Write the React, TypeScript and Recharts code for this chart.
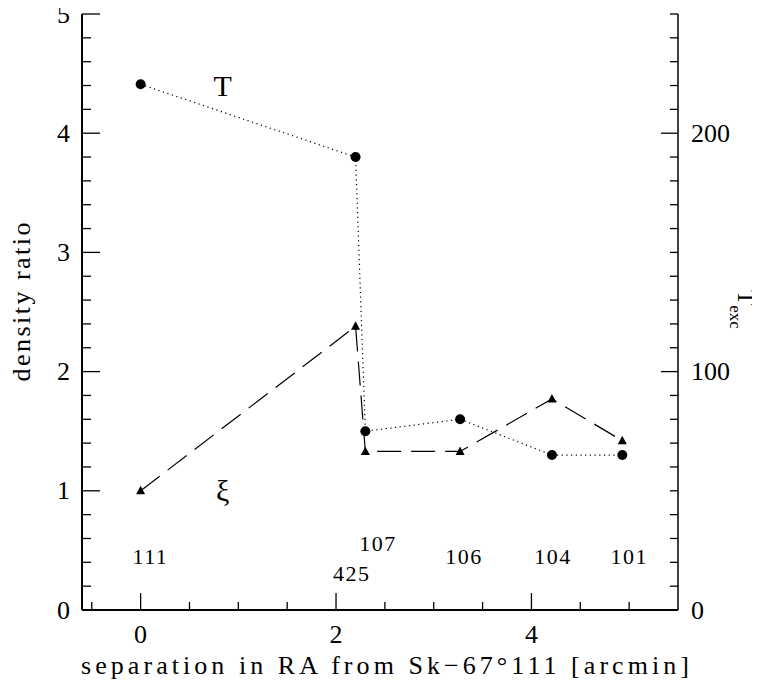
import { ComposedChart, Line, XAxis, YAxis, ReferenceDot } from "recharts"

// separation in RA [arcmin]
const separation = [0, 2.2, 2.3, 3.27, 4.21, 4.93]
// density ratios
const tRatio = [4.41, 3.8, 1.5, 1.6, 1.3, 1.3]
const xiRatio = [1.0, 2.38, 1.33, 1.33, 1.77, 1.42]

const xTicks = [-0.5, 0, 0.5, 1, 1.5, 2, 2.5, 3, 3.5, 4, 4.5, 5]
const xLabels = [0, 2, 4]
const leftTicks = [
  0, 0.2, 0.4, 0.6, 0.8, 1, 1.2, 1.4, 1.6, 1.8, 2, 2.2, 2.4, 2.6, 2.8, 3, 3.2, 3.4, 3.6, 3.8, 4, 4.2, 4.4, 4.6,
  4.8, 5,
]
const leftLabels = [0, 1, 2, 3, 4, 5]
const rightTicks = [
  0, 10, 20, 30, 40, 50, 60, 70, 80, 90, 100, 110, 120, 130, 140, 150, 160, 170, 180, 190, 200, 210, 220, 230,
  240, 250,
]
const rightLabels = [0, 100, 200]

// field names written under the points
const fieldNames = ["111", "425", "107", "106", "104", "101"]
const fieldX = [0.1, 2.16, 2.43, 3.31, 4.22, 5.0]
const fieldY = [0.45, 0.31, 0.56, 0.45, 0.45, 0.45]

// series names written in the plot
const seriesNames = ["T", "ξ"]
const seriesNameX = [0.84, 0.84]
const seriesNameY = [4.4, 1.0]

const data = separation.map((s, i) => ({ x: s, t: tRatio[i], xi: xiRatio[i] }))

const FONT = "'Liberation Serif', 'DejaVu Serif', serif"
const INK = "#000"

const BottomTick = ({ x, y, payload }: any) => {
  const major = xLabels.includes(payload.value)
  return (
    <g>
      <line x1={x} x2={x} y1={y} y2={y - (major ? 17 : 8)} stroke={INK} strokeWidth={1.3} />
      {major && (
        <text x={x} y={y + 24} textAnchor="middle" dominantBaseline="central" fontFamily={FONT} fontSize={26} fill={INK}>
          {payload.value}
        </text>
      )}
    </g>
  )
}

const TopTick = ({ x, y, payload }: any) => {
  const major = xLabels.includes(payload.value)
  return <line x1={x} x2={x} y1={y} y2={y + (major ? 17 : 8)} stroke={INK} strokeWidth={1.3} />
}

const LeftTick = ({ x, y, payload }: any) => {
  const major = leftLabels.includes(payload.value)
  return (
    <g>
      <line x1={x} x2={x + (major ? 18 : 9)} y1={y} y2={y} stroke={INK} strokeWidth={1.3} />
      {major && (
        <text x={x - 12} y={y} textAnchor="end" dominantBaseline="central" fontFamily={FONT} fontSize={26} fill={INK}>
          {payload.value}
        </text>
      )}
    </g>
  )
}

const RightTick = ({ x, y, payload }: any) => {
  const major = rightLabels.includes(payload.value)
  return (
    <g>
      <line x1={x} x2={x - (major ? 17 : 8)} y1={y} y2={y} stroke={INK} strokeWidth={1.3} />
      {major && (
        <text x={x + 13} y={y} textAnchor="start" dominantBaseline="central" fontFamily={FONT} fontSize={26} fill={INK}>
          {payload.value}
        </text>
      )}
    </g>
  )
}

const Triangle = ({ cx, cy, index }: any) => (
  <path key={`tri-${index}`} d={`M${cx},${cy - 5} L${cx + 4.5},${cy + 3.5} L${cx - 4.5},${cy + 3.5} Z`} fill={INK} />
)

const Dot = ({ cx, cy, index }: any) => <circle key={`dot-${index}`} cx={cx} cy={cy} r={5} fill={INK} />

export default function App() {
  return (
    <ComposedChart width={752} height={672} data={data} margin={{ top: 6, right: 8, bottom: 0, left: 0 }}>
      <XAxis
        xAxisId="bottom"
        dataKey="x"
        type="number"
        domain={[-0.6, 5.5]}
        allowDataOverflow
        ticks={xTicks}
        interval={0}
        tick={<BottomTick />}
        tickLine={false}
        tickSize={0}
        tickMargin={0}
        height={70}
        axisLine={{ stroke: INK, strokeWidth: 2 }}
        label={({ viewBox }: any) => (
          <text
            x={viewBox.x + viewBox.width / 2 + 5}
            y={viewBox.y + 55}
            textAnchor="middle"
            dominantBaseline="central"
            fontFamily={FONT}
            fontSize={26}
            textLength={608}
            lengthAdjust="spacing"
            fill={INK}
          >
            separation in RA from Sk−67°111 [arcmin]
          </text>
        )}
      />
      <XAxis
        xAxisId="top"
        orientation="top"
        type="number"
        domain={[-0.6, 5.5]}
        allowDataOverflow
        ticks={xTicks}
        interval={0}
        tick={<TopTick />}
        tickLine={false}
        tickSize={0}
        tickMargin={0}
        height={0}
        axisLine={{ stroke: INK, strokeWidth: 1.5 }}
      />
      <YAxis
        yAxisId="left"
        type="number"
        domain={[0, 5]}
        allowDataOverflow
        ticks={leftTicks}
        interval={0}
        tick={<LeftTick />}
        tickLine={false}
        tickSize={0}
        tickMargin={0}
        width={74}
        axisLine={{ stroke: INK, strokeWidth: 2 }}
        label={({ viewBox }: any) => {
          const cx = viewBox.x + 13
          const cy = viewBox.y + viewBox.height / 2 - 10
          return (
            <text
              x={cx}
              y={cy}
              transform={`rotate(-90, ${cx}, ${cy})`}
              textAnchor="middle"
              dominantBaseline="central"
              fontFamily={FONT}
              fontSize={26}
              textLength={159}
              lengthAdjust="spacing"
              fill={INK}
            >
              density ratio
            </text>
          )
        }}
      />
      <YAxis
        yAxisId="right"
        orientation="right"
        type="number"
        domain={[0, 250]}
        allowDataOverflow
        ticks={rightTicks}
        interval={0}
        tick={<RightTick />}
        tickLine={false}
        tickSize={0}
        tickMargin={0}
        width={74}
        axisLine={{ stroke: INK, strokeWidth: 1.5 }}
        label={({ viewBox }: any) => {
          const cx = viewBox.x + 60
          const cy = viewBox.y + 276
          return (
            <text
              x={cx}
              y={cy}
              transform={`rotate(90, ${cx}, ${cy})`}
              textAnchor="start"
              fontFamily={FONT}
              fontSize={25}
              fill={INK}
            >
              T
              <tspan fontSize={17} dy={8}>
                exc
              </tspan>
            </text>
          )
        }}
      />
      <Line
        xAxisId="bottom"
        yAxisId="left"
        type="linear"
        dataKey="t"
        stroke={INK}
        strokeWidth={1.2}
        strokeDasharray="1.2 3.5"
        dot={<Dot />}
        activeDot={false}
        isAnimationActive={false}
      />
      <Line
        xAxisId="bottom"
        yAxisId="left"
        type="linear"
        dataKey="xi"
        stroke={INK}
        strokeWidth={1.2}
        strokeDasharray="24 10"
        dot={<Triangle />}
        activeDot={false}
        isAnimationActive={false}
      />
      {fieldNames.map((name, i) => (
        <ReferenceDot
          key={`f-${i}`}
          xAxisId="bottom"
          yAxisId="left"
          x={fieldX[i]}
          y={fieldY[i]}
          ifOverflow="visible"
          shape={({ cx, cy }: any) => (
            <text
              x={cx}
              y={cy}
              textAnchor="middle"
              dominantBaseline="central"
              fontFamily={FONT}
              fontSize={22}
              letterSpacing={1.5}
              fill={INK}
            >
              {name}
            </text>
          )}
        />
      ))}
      {seriesNames.map((name, i) => (
        <ReferenceDot
          key={`s-${i}`}
          xAxisId="bottom"
          yAxisId="left"
          x={seriesNameX[i]}
          y={seriesNameY[i]}
          ifOverflow="visible"
          shape={({ cx, cy }: any) => (
            <text x={cx} y={cy} textAnchor="middle" dominantBaseline="central" fontFamily={FONT} fontSize={30} fill={INK}>
              {name}
            </text>
          )}
        />
      ))}
    </ComposedChart>
  )
}
